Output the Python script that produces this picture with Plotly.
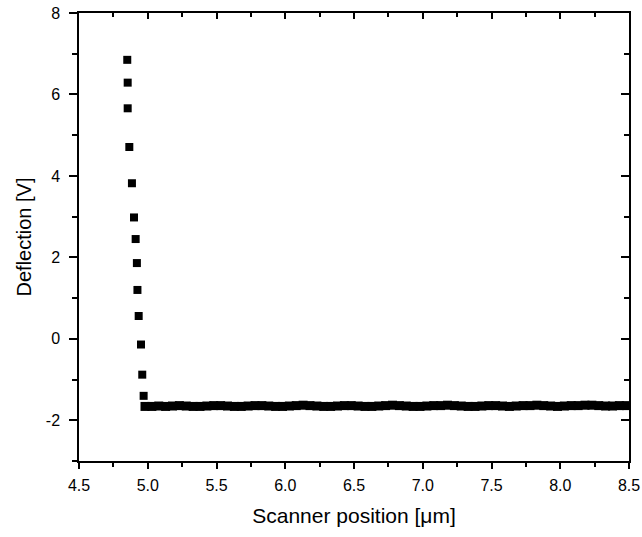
import plotly.graph_objects as go

# Steep approach section
x_approach = [4.851, 4.854, 4.854, 4.866, 4.885, 4.900, 4.912, 4.921, 4.925, 4.934, 4.951, 4.960, 4.970]
y_approach = [6.85, 6.29, 5.66, 4.71, 3.82, 2.98, 2.45, 1.86, 1.20, 0.56, -0.14, -0.88, -1.40]

# Flat (free) section
x_flat = [4.98, 5.03, 5.08, 5.13, 5.18, 5.23, 5.28, 5.33, 5.38, 5.43,
          5.48, 5.53, 5.58, 5.63, 5.68, 5.73, 5.78, 5.83, 5.88, 5.93,
          5.98, 6.03, 6.08, 6.13, 6.18, 6.23, 6.28, 6.33, 6.38, 6.43,
          6.48, 6.53, 6.58, 6.63, 6.68, 6.73, 6.78, 6.83, 6.88, 6.93,
          6.98, 7.03, 7.08, 7.13, 7.18, 7.23, 7.28, 7.33, 7.38, 7.43,
          7.48, 7.53, 7.58, 7.63, 7.68, 7.73, 7.78, 7.83, 7.88, 7.93,
          7.98, 8.03, 8.08, 8.13, 8.18, 8.23, 8.28, 8.33, 8.38, 8.43, 8.48]
y_flat = [-1.66, -1.66, -1.65, -1.66, -1.65, -1.64, -1.65, -1.66, -1.66, -1.65,
          -1.64, -1.64, -1.65, -1.66, -1.66, -1.65, -1.64, -1.64, -1.65, -1.66,
          -1.66, -1.65, -1.64, -1.63, -1.64, -1.65, -1.66, -1.66, -1.65, -1.64,
          -1.64, -1.65, -1.66, -1.66, -1.65, -1.64, -1.63, -1.64, -1.65, -1.66,
          -1.66, -1.65, -1.64, -1.64, -1.63, -1.64, -1.65, -1.66, -1.66, -1.65,
          -1.64, -1.64, -1.65, -1.66, -1.65, -1.64, -1.64, -1.63, -1.64, -1.65,
          -1.66, -1.65, -1.64, -1.64, -1.63, -1.63, -1.64, -1.65, -1.65, -1.64, -1.64]

x_ticks = [4.5, 5.0, 5.5, 6.0, 6.5, 7.0, 7.5, 8.0, 8.5]
x_ticklabels = ["4.5", "5.0", "5.5", "6.0", "6.5", "7.0", "7.5", "8.0", "8.5"]
y_ticks = [-2, 0, 2, 4, 6, 8]
y_ticklabels = ["-2", "0", "2", "4", "6", "8"]

FONT = "Liberation Sans, Arial, sans-serif"
LW = 1.5

fig = go.Figure()
fig.add_trace(go.Scatter(
    x=x_approach, y=y_approach, mode="markers",
    marker=dict(symbol="square", size=8, color="black", line=dict(width=0)),
    showlegend=False,
))
fig.add_trace(go.Scatter(
    x=x_flat, y=y_flat, mode="markers",
    marker=dict(symbol="square", size=9, color="black", line=dict(width=0)),
    showlegend=False,
))

fig.update_layout(
    width=642, height=537,
    margin=dict(l=79, r=13, t=13, b=76, autoexpand=False),
    paper_bgcolor="white", plot_bgcolor="white",
    font=dict(family=FONT, color="black", size=16),
    xaxis=dict(
        range=[4.5, 8.5], tickvals=x_ticks, ticktext=x_ticklabels,
        showline=True, linecolor="black", linewidth=LW,
        ticks="outside", ticklen=6, tickwidth=LW, tickcolor="black",
        minor=dict(ticks="outside", ticklen=4, tickwidth=LW, tickcolor="black", dtick=0.25, tick0=4.5, showgrid=False),
        showgrid=False, zeroline=False,
        tickfont=dict(size=16, family=FONT),
        ticklabelstandoff=3,
        title=dict(text="Scanner position [\u03bcm]", font=dict(size=21, family=FONT), standoff=15),
        automargin=False,
    ),
    yaxis=dict(
        range=[-3, 8], tickvals=y_ticks, ticktext=y_ticklabels,
        showline=True, linecolor="black", linewidth=LW,
        ticks="outside", ticklen=8, tickwidth=LW, tickcolor="black",
        minor=dict(ticks="outside", ticklen=5, tickwidth=LW, tickcolor="black", dtick=1, tick0=-3, showgrid=False),
        showgrid=False, zeroline=False,
        tickfont=dict(size=16, family=FONT),
        ticklabelstandoff=6,
        title=dict(text="Deflection [V]", font=dict(size=20, family=FONT), standoff=9),
        automargin=False,
    ),
    xaxis2=dict(
        overlaying="x", side="top", range=[4.5, 8.5], matches="x",
        tickvals=x_ticks, showticklabels=False,
        showline=True, linecolor="black", linewidth=LW,
        ticks="inside", ticklen=6, tickwidth=LW, tickcolor="black",
        minor=dict(ticks="inside", ticklen=4, tickwidth=LW, tickcolor="black", dtick=0.25, tick0=4.5, showgrid=False),
        showgrid=False, zeroline=False,
    ),
    yaxis2=dict(
        overlaying="y", side="right", range=[-3, 8], matches="y",
        tickvals=y_ticks, showticklabels=False,
        showline=True, linecolor="black", linewidth=LW,
        ticks="inside", ticklen=8, tickwidth=LW, tickcolor="black",
        minor=dict(ticks="inside", ticklen=5, tickwidth=LW, tickcolor="black", dtick=1, tick0=-3, showgrid=False),
        showgrid=False, zeroline=False,
    ),
)

# invisible trace to anchor the mirrored axes
fig.add_trace(go.Scatter(x=[4.5], y=[-3], xaxis="x2", yaxis="y2", mode="markers",
                         marker=dict(size=0, opacity=0), showlegend=False, hoverinfo="skip"))

fig.write_html("out.html", config={"displayModeBar": False},
               post_script="document.body.style.margin='0';document.body.style.overflow='hidden';")
